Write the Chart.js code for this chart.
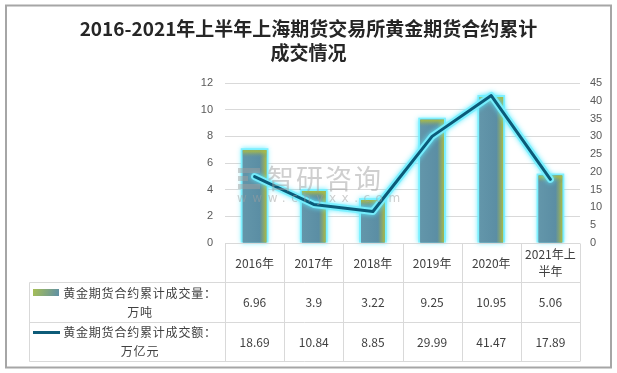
<!DOCTYPE html>
<html><head><meta charset="utf-8">
<script src="https://cdn.jsdelivr.net/npm/chart.js@4.4.0/dist/chart.umd.min.js"></script>
<style>html,body{margin:0;padding:0;background:#fff}#wrap{width:617px;height:373px;position:relative}</style>
</head><body><div id="wrap"><canvas id="c" width="617" height="373"></canvas></div>
<script>
const titleLines = ['2016-2021年上半年上海期货交易所黄金期货合约累计', '成交情况'];
const categories = ['2016年', '2017年', '2018年', '2019年', '2020年', '2021年上半年'];
const volumeName = ['黄金期货合约累计成交量：', '万吨'];
const volume = [6.96, 3.9, 3.22, 9.25, 10.95, 5.06];
const turnoverName = ['黄金期货合约累计成交额：', '万亿元'];
const turnover = [18.69, 10.84, 8.85, 29.99, 41.47, 17.89];
const leftTicks = [0, 2, 4, 6, 8, 10, 12];
const rightTicks = [0, 5, 10, 15, 20, 25, 30, 35, 40, 45];
const watermark = ['智研咨询', 'www.chyxx.com'];

const CJK = '"Noto Sans CJK SC", "Noto Sans", sans-serif';
Chart.defaults.font.family = CJK;

function wrapChars(ctx, text, maxW) {
  const lines = []; let cur = '';
  for (const ch of text) {
    if (ctx.measureText(cur + ch).width > maxW && cur) { lines.push(cur); cur = ch; }
    else cur += ch;
  }
  if (cur) lines.push(cur);
  return lines;
}

const GLOW = 'rgba(120,240,255,0.9)';

const deco = {
  id: 'deco',
  beforeDraw(chart) {
    const { ctx, width, height } = chart;
    ctx.save();
    ctx.fillStyle = '#fff'; ctx.fillRect(0, 0, width, height);
    ctx.strokeStyle = '#a6a6a6'; ctx.lineWidth = 2;
    ctx.strokeRect(6, 5.5, 605, 362);
    ctx.fillStyle = '#262626';
    ctx.textAlign = 'center'; ctx.textBaseline = 'middle';
    ctx.font = '600 19px ' + CJK;
    ctx.fillText(titleLines[0], 308.5, 29, 462);
    ctx.fillText(titleLines[1], 308.5, 53);
    ctx.restore();
  },
  beforeDatasetDraw(chart, args) {
    const ctx = chart.ctx;
    const els = args.meta.data;
    ctx.save();
    if (args.meta.type === 'bar') {
      ctx.shadowColor = 'rgba(90,235,255,1)';
      ctx.shadowBlur = 5;
      ctx.fillStyle = GLOW;
      els.forEach(el => {
        const l = el.x - el.width / 2;
        ctx.fillRect(l - 2, el.y - 2, el.width + 4, el.base - el.y + 2);
      });
    } else {
      ctx.shadowColor = 'rgba(90,235,255,1)';
      ctx.shadowBlur = 5;
      ctx.strokeStyle = GLOW;
      ctx.lineWidth = 7;
      ctx.lineJoin = 'round'; ctx.lineCap = 'round';
      ctx.beginPath();
      els.forEach((p, i) => i ? ctx.lineTo(p.x, p.y) : ctx.moveTo(p.x, p.y));
      ctx.stroke();
    }
    ctx.restore();
  },
  afterDatasetDraw(chart, args) {
    if (args.meta.type !== 'bar') return;
    const ctx = chart.ctx;
    ctx.save();
    args.meta.data.forEach(el => {
      const l = el.x - el.width / 2, w = el.width, t = el.y, h = el.base - el.y;
      const g = ctx.createLinearGradient(l, 0, l + w, 0);
      g.addColorStop(0, '#6396aa');
      g.addColorStop(0.72, '#5b8ea4');
      g.addColorStop(0.86, '#7fa27a');
      g.addColorStop(1, '#a9ba45');
      ctx.fillStyle = g;
      ctx.fillRect(l, t, w, h);
      const gv = ctx.createLinearGradient(0, t, 0, t + 8);
      gv.addColorStop(0, 'rgba(169,186,69,1)');
      gv.addColorStop(0.3, 'rgba(169,186,69,0.6)');
      gv.addColorStop(1, 'rgba(91,142,164,0)');
      ctx.fillStyle = gv;
      ctx.fillRect(l, t, w, 8);
    });
    ctx.restore();
  },
  afterDraw(chart) {
    const { ctx, chartArea: a } = chart;
    const xs = chart.scales.x;
    const n = categories.length;
    const colW = (a.right - a.left) / n;
    const top = Math.round(a.bottom) + 0.5;
    const r1 = top + 39, r2 = r1 + 40, r3 = r2 + 39;
    const tableLeft = 29.5;
    ctx.save();
    ctx.strokeStyle = '#d9d9d9'; ctx.lineWidth = 1;
    ctx.beginPath();
    ctx.moveTo(a.left, top); ctx.lineTo(a.right, top);
    [r1, r2, r3].forEach(y => { ctx.moveTo(tableLeft, y); ctx.lineTo(a.right, y); });
    ctx.moveTo(tableLeft, r1); ctx.lineTo(tableLeft, r3);
    for (let i = 0; i <= n; i++) {
      const x = Math.round(a.left + i * colW) + 0.5;
      ctx.moveTo(x, top); ctx.lineTo(x, r3);
    }
    ctx.stroke();

    ctx.fillStyle = '#404040';
    ctx.textAlign = 'center'; ctx.textBaseline = 'middle';
    ctx.font = '12px ' + CJK;
    categories.forEach((c, i) => {
      const cx = xs.getPixelForValue(i);
      const lines = wrapChars(ctx, c, colW - 4);
      const lh = 17;
      lines.forEach((ln, k) => ctx.fillText(ln, cx, (top + r1) / 2 + (k - (lines.length - 1) / 2) * lh));
      ctx.fillText(String(volume[i]), cx, (r1 + r2) / 2);
      ctx.fillText(String(turnover[i]), cx, (r2 + r3) / 2);
    });

    ctx.letterSpacing = '0.8px';
    const textCx = 140;
    const rows = [[volumeName, r1, r2], [turnoverName, r2, r3]];
    rows.forEach(([name, y0, y1], ri) => {
      const mid = (y0 + y1) / 2;
      ctx.fillText(name[0], textCx, mid - 9.5);
      ctx.fillText(name[1], textCx, mid + 9.5);
      if (ri === 0) {
        const g = ctx.createLinearGradient(33, mid - 13.5, 59, mid - 6.5);
        g.addColorStop(0, '#a7bf55');
        g.addColorStop(1, '#5f8fa6');
        ctx.fillStyle = g;
        ctx.fillRect(33, mid - 13.5, 26, 7);
        ctx.fillStyle = '#404040';
      } else {
        ctx.strokeStyle = '#0d5b78'; ctx.lineWidth = 3;
        ctx.beginPath(); ctx.moveTo(33, mid - 9.5); ctx.lineTo(60, mid - 9.5); ctx.stroke();
      }
    });
    ctx.letterSpacing = '0px';

    ctx.globalAlpha = 0.5;
    ctx.fillStyle = '#a0a0a0';
    ctx.textAlign = 'left';
    ctx.font = '27px ' + CJK;
    ctx.letterSpacing = '2px';
    ctx.fillText(watermark[0], 267, 179);
    ctx.font = '12px "DejaVu Sans", sans-serif';
    ctx.letterSpacing = '5.5px';
    ctx.fillText(watermark[1], 237, 199);
    ctx.letterSpacing = '0px';
    ctx.fillRect(238, 168, 22, 5);
    ctx.fillRect(238, 176, 10, 5);
    ctx.fillRect(238, 184, 22, 5);
    ctx.restore();
  }
};

new Chart(document.getElementById('c'), {
  type: 'bar',
  data: {
    labels: categories,
    datasets: [
      {
        type: 'line', label: turnoverName.join(''), data: turnover, yAxisID: 'y1',
        borderColor: '#0b5b79', borderWidth: 3, pointRadius: 0, tension: 0, order: 0,
        borderJoinStyle: 'round', borderCapStyle: 'round'
      },
      {
        type: 'bar', label: volumeName.join(''), data: volume, yAxisID: 'y',
        backgroundColor: '#5b8ea4', borderWidth: 0, categoryPercentage: 1, barPercentage: 0.4, order: 1
      }
    ]
  },
  options: {
    responsive: false, animation: false, devicePixelRatio: 1,
    layout: { padding: { left: 185, right: 0, top: 83, bottom: 130 } },
    plugins: { legend: { display: false }, tooltip: { enabled: false }, title: { display: false } },
    scales: {
      x: { display: false },
      y: {
        position: 'left', min: leftTicks[0], max: leftTicks[leftTicks.length - 1],
        afterFit: s => { s.width = 40; },
        ticks: { stepSize: leftTicks[1] - leftTicks[0], color: '#595959', font: { size: 11, family: '"Liberation Sans", sans-serif' }, padding: 12 },
        grid: { color: '#d9d9d9', drawTicks: false },
        border: { display: false }
      },
      y1: {
        position: 'right', min: rightTicks[0], max: rightTicks[rightTicks.length - 1],
        afterFit: s => { s.width = 37; },
        ticks: { stepSize: rightTicks[1] - rightTicks[0], color: '#595959', font: { size: 11, family: '"Liberation Sans", sans-serif' }, padding: 10 },
        grid: { display: false, drawTicks: false },
        border: { display: false }
      }
    }
  },
  plugins: [deco]
});
</script></body></html>
